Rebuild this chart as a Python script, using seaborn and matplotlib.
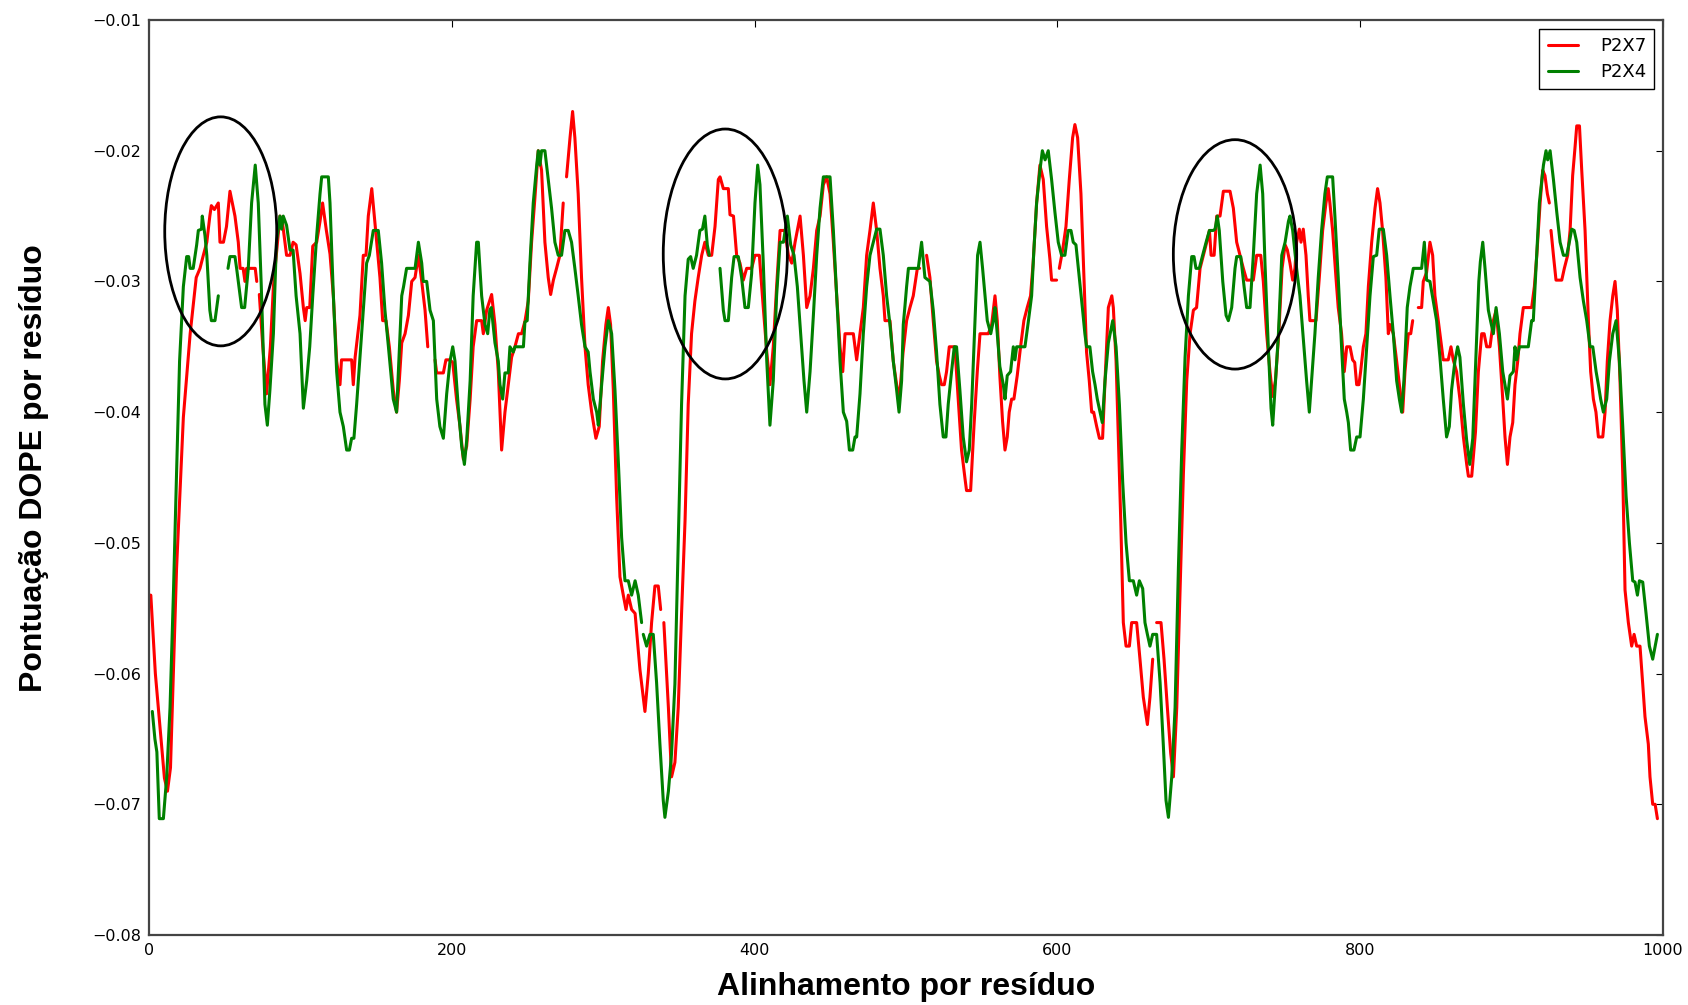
import matplotlib
matplotlib.use("Agg")
import matplotlib.pyplot as plt
from matplotlib.patches import Ellipse
from matplotlib.lines import Line2D
import numpy as np
import pandas as pd
import seaborn as sns

# DOPE per-residue profiles: (alignment position, score); GAP marks a break in the trace
GAP = None

p2x7 = [
    (0, -0.0540), (1, -0.0540), (4, -0.0600), (7, -0.0640), (10, -0.0680), (12, -0.0690), (14, -0.0672),
    (18, -0.0520), (22.5, -0.0404), (27, -0.0340), (31, -0.0297), (33.5, -0.0290), (35.7, -0.0280),
    (38, -0.0270), (40, -0.0250), (41, -0.0242), (43, -0.0245), (45.6, -0.0240), (46.7, -0.0270),
    (49, -0.0270), (51, -0.0258), (53.3, -0.0231), (56.6, -0.0250), (58.8, -0.0270), (60, -0.0290),
    (62, -0.0290), (63.2, -0.0300), (64.3, -0.0290), (70, -0.0290), (71, -0.0300), GAP,
    (72.7, -0.0310), (75, -0.0350), (77.5, -0.0386), (80, -0.0350), (82, -0.0304), (86.3, -0.0250),
    (88, -0.0255), (90.7, -0.0280), (93, -0.0280), (95, -0.0270), (97, -0.0272), (99.6, -0.0294),
    (101.8, -0.0320), (103, -0.0330), (104, -0.0320), (106, -0.0320), (108, -0.0273), (110.6, -0.0270),
    (112.8, -0.0254), (114.5, -0.0240), (117, -0.0261), (119.4, -0.0279), (121.6, -0.0311),
    (123.8, -0.0361), (126, -0.0379), (127, -0.0360), (133.7, -0.0360), (134.8, -0.0379), (136, -0.0358),
    (139.2, -0.0326), (141.4, -0.0280), (143.2, -0.0280), (144.7, -0.0250), (147, -0.0229),
    (149, -0.0254), (152.4, -0.0297), (154.2, -0.0330), (156.4, -0.0330), (158.6, -0.0350),
    (161.2, -0.0383), (163.4, -0.0400), (165.2, -0.0376), (166.8, -0.0347), (169, -0.0340),
    (171.2, -0.0326), (173.4, -0.0300), (175.6, -0.0297), (177.8, -0.0280), (180, -0.0300),
    (182.2, -0.0322), (184, -0.0350), GAP,
    (188.8, -0.0360), (189.9, -0.0370), (194.3, -0.0370), (196, -0.0360), (198.7, -0.0360),
    (200.5, -0.0362), (203, -0.0390), (205.3, -0.0411), (207.5, -0.0436), (209.7, -0.0426),
    (212, -0.0390), (214, -0.0350), (216.3, -0.0330), (219.6, -0.0330), (220.7, -0.0340),
    (222.9, -0.0322), (226.2, -0.0310), (228.4, -0.0333), (230.6, -0.0369), (232.8, -0.0429),
    (235, -0.0400), (237.2, -0.0379), (239.4, -0.0358), (241.6, -0.0350), (243.9, -0.0340),
    (246, -0.0340), (248.3, -0.0330), (250.4, -0.0315), (252.6, -0.0270), (254.8, -0.0236),
    (257, -0.0200), (259.2, -0.0215), (261.4, -0.0270), (263.6, -0.0297), (265.2, -0.0310),
    (267, -0.0299), (269.1, -0.0290), (271.3, -0.0280), (273.5, -0.0240), GAP,
    (275.7, -0.0220), (278, -0.0190), (279.7, -0.0170), (281.2, -0.0190), (283.4, -0.0233),
    (285.6, -0.0297), (287.9, -0.0350), (290, -0.0379), (292.3, -0.0400), (295.1, -0.0420),
    (297.3, -0.0411), (299.5, -0.0361), (301.7, -0.0333), (303.3, -0.0320), (304.8, -0.0333),
    (306.6, -0.0383), (308.8, -0.0465), (311, -0.0526), (313.2, -0.0540), (315, -0.0551),
    (316.5, -0.0540), (318.7, -0.0551), (321, -0.0554), (324.2, -0.0597), (327.5, -0.0629),
    (329.7, -0.0600), (331.9, -0.0561), (334.1, -0.0533), (336.3, -0.0533), (337.9, -0.0551), GAP,
    (340, -0.0561), (343, -0.0626), (345.1, -0.0679), (347.3, -0.0668), (349.5, -0.0626),
    (351.7, -0.0554), (354, -0.0483), (356.1, -0.0394), (358.3, -0.0340), (360.5, -0.0315),
    (362.7, -0.0297), (365, -0.0280), (367.1, -0.0270), (369.4, -0.0280), (371.6, -0.0280),
    (373.8, -0.0258), (376, -0.0222), (377.1, -0.0220), (379.3, -0.0229), (382.6, -0.0229),
    (383.7, -0.0249), (386, -0.0250), (388.1, -0.0280), (390.3, -0.0286), (392.5, -0.0299),
    (394.7, -0.0290), (398, -0.0290), (400.2, -0.0280), (403.1, -0.0280), (405.7, -0.0320),
    (408, -0.0354), (410.1, -0.0379), (412.3, -0.0350), (414.5, -0.0304), (416.8, -0.0261),
    (420, -0.0261), (422.3, -0.0280), (424.5, -0.0286), (426.7, -0.0270), (430, -0.0250),
    (432.2, -0.0280), (434.4, -0.0320), (436.6, -0.0311), (438.8, -0.0290), (441, -0.0261),
    (443.2, -0.0250), (445.4, -0.0226), (447.6, -0.0220), (449.8, -0.0233), (452, -0.0270),
    (454.2, -0.0311), (456.4, -0.0350), (458.2, -0.0369), (459.7, -0.0340), (465.2, -0.0340),
    (467.4, -0.0360), (469.6, -0.0340), (471.8, -0.0320), (474, -0.0280), (476.2, -0.0261),
    (478.4, -0.0240), (480.6, -0.0261), (482.8, -0.0290), (485, -0.0311), (486.1, -0.0330),
    (489.4, -0.0330), (491.6, -0.0361), (493.8, -0.0379), (495.6, -0.0390), (498, -0.0355),
    (500.4, -0.0330), (502.6, -0.0320), (504.8, -0.0311), (507.5, -0.0290), (509, -0.0290), GAP,
    (513.6, -0.0280), (515.8, -0.0297), (518, -0.0330), (520.2, -0.0361), (522, -0.0372),
    (523.5, -0.0379), (525.3, -0.0379), (526.8, -0.0369), (528.6, -0.0350), (532.3, -0.0350),
    (534.5, -0.0390), (536.7, -0.0429), (539, -0.0451), (540, -0.0460), (542.7, -0.0460),
    (544.9, -0.0411), (547.1, -0.0369), (548.9, -0.0340), (554.4, -0.0340), (556.6, -0.0333),
    (558.8, -0.0311), (560.3, -0.0330), (562, -0.0372), (563.8, -0.0407), (565.4, -0.0429),
    (566.9, -0.0419), (568.2, -0.0400), (569.8, -0.0390), (571.3, -0.0390), (573.5, -0.0372),
    (575.7, -0.0350), (577.9, -0.0330), (580.1, -0.0320), (582.3, -0.0311), (584, -0.0286),
    (586.3, -0.0240), (588.5, -0.0211), (590.7, -0.0222), (592.9, -0.0258), (595.1, -0.0283),
    (596.2, -0.0299), (599.5, -0.0299), GAP,
    (601.3, -0.0290), (603.5, -0.0276), (605.7, -0.0258), (607.9, -0.0222), (610.1, -0.0190),
    (611.6, -0.0180), (613.4, -0.0190), (615.6, -0.0233), (617.8, -0.0304), (619.3, -0.0354),
    (621.1, -0.0376), (622.7, -0.0400), (624, -0.0400), (626, -0.0411), (627.8, -0.0420),
    (629.9, -0.0420), (631.5, -0.0376), (633.7, -0.0320), (636, -0.0311), (637, -0.0320),
    (638.8, -0.0361), (640.3, -0.0419), (641.9, -0.0483), (643.6, -0.0561), (645.4, -0.0579),
    (647.6, -0.0579), (649.1, -0.0561), (652.4, -0.0561), (654.6, -0.0589), (656.8, -0.0618),
    (659.5, -0.0639), (661.2, -0.0618), (663, -0.0589), GAP,
    (665.6, -0.0561), (668.5, -0.0561), (670.5, -0.0589), (672.7, -0.0626), (674.9, -0.0661),
    (676.7, -0.0679), (678.9, -0.0626), (681.1, -0.0536), (683.3, -0.0447), (685.5, -0.0376),
    (687.7, -0.0340), (689.9, -0.0322), (692, -0.0320), (694.3, -0.0290), (696.5, -0.0280),
    (698.7, -0.0270), (700.5, -0.0261), (701.6, -0.0280), (703.6, -0.0280), (705.3, -0.0250),
    (707.5, -0.0250), (709.7, -0.0231), (714.1, -0.0231), (716.3, -0.0244), (718.5, -0.0270),
    (720.7, -0.0280), (722.9, -0.0290), (725.1, -0.0299), (729.5, -0.0299), (731.7, -0.0280),
    (734.4, -0.0280), (736.1, -0.0300), (738.3, -0.0340), (740.5, -0.0369), (742.3, -0.0388),
    (744.1, -0.0376), (746.3, -0.0340), (748.5, -0.0290), (750.5, -0.0272), (752, -0.0276),
    (753.7, -0.0286), (755.5, -0.0299), (757, -0.0290), (758.1, -0.0270), (759.9, -0.0260),
    (761, -0.0270), (762.5, -0.0260), (764.3, -0.0280), (765.8, -0.0311), (766.9, -0.0330),
    (770.9, -0.0330), (773.1, -0.0297), (775.3, -0.0261), (777.5, -0.0240), (779, -0.0229),
    (780.1, -0.0240), (781.9, -0.0261), (784.1, -0.0297), (785.6, -0.0320), (787.8, -0.0340),
    (789.6, -0.0369), (791.2, -0.0350), (793.4, -0.0350), (795.1, -0.0360), (796.5, -0.0362),
    (797.8, -0.0379), (799.3, -0.0379), (800.4, -0.0369), (802.2, -0.0350), (803.9, -0.0340),
    (805.5, -0.0304), (807.7, -0.0270), (809.9, -0.0244), (811.6, -0.0229), (813.2, -0.0240),
    (814.9, -0.0261), (817.1, -0.0297), (818.7, -0.0340), (819.8, -0.0333), (822, -0.0340),
    (824.2, -0.0361), (826, -0.0379), (828.2, -0.0400), (829.7, -0.0369), (831.9, -0.0340),
    (833.5, -0.0340), (834.8, -0.0330), GAP,
    (838.5, -0.0320), (840.7, -0.0320), (841.8, -0.0300), (844, -0.0293), (846.2, -0.0270),
    (848, -0.0280), (849.5, -0.0311), (851.7, -0.0330), (852.8, -0.0340), (855, -0.0360),
    (858.3, -0.0360), (860.1, -0.0350), (861.6, -0.0360), (863.8, -0.0369), (866, -0.0390),
    (868.3, -0.0419), (870.5, -0.0440), (871.6, -0.0449), (873.8, -0.0449), (876.3, -0.0415),
    (878.2, -0.0369), (880.4, -0.0340), (882, -0.0340), (883.7, -0.0350), (885.9, -0.0350),
    (888.1, -0.0330), (889.9, -0.0322), (892.1, -0.0350), (894.3, -0.0390), (895.8, -0.0419),
    (897.4, -0.0440), (899.1, -0.0419), (900.9, -0.0408), (902.4, -0.0379), (904.2, -0.0361),
    (905.7, -0.0340), (907.9, -0.0320), (913.4, -0.0320), (915.2, -0.0304), (916.8, -0.0280),
    (919, -0.0240), (920.7, -0.0215), (922.2, -0.0219), (923.8, -0.0233), (925.1, -0.0240), GAP,
    (926.2, -0.0261), (927.8, -0.0280), (929.5, -0.0299), (933.3, -0.0299), (935, -0.0290),
    (937.2, -0.0280), (938.8, -0.0261), (940.5, -0.0219), (942.1, -0.0197), (943.2, -0.0181),
    (945, -0.0181), (946.5, -0.0215), (948.7, -0.0261), (950.9, -0.0330), (952.4, -0.0369),
    (954.2, -0.0390), (955.9, -0.0400), (957.5, -0.0419), (960.4, -0.0419), (961.9, -0.0400),
    (963.4, -0.0361), (965.2, -0.0330), (967, -0.0311), (968.5, -0.0300), (970, -0.0322),
    (971.8, -0.0376), (973.6, -0.0447), (975.1, -0.0536), (977.3, -0.0561), (979.5, -0.0579),
    (981.1, -0.0570), (982.8, -0.0579), (985, -0.0579), (986.8, -0.0608), (988.3, -0.0633),
    (990.5, -0.0654), (991.6, -0.0679), (993.4, -0.0700), (995, -0.0700), (996.5, -0.0711),
]

p2x4 = [
    (2, -0.0629), (3.7, -0.0650), (5, -0.0660), (6.6, -0.0711), (9.3, -0.0711), (11.5, -0.0679),
    (13.7, -0.0626), (16, -0.0536), (18, -0.0447), (20, -0.0361), (22.5, -0.0304), (24.7, -0.0281),
    (26, -0.0281), (27, -0.0290), (29, -0.0290), (31.3, -0.0272), (32.4, -0.0261), (34.5, -0.0260),
    (35, -0.0250), (36.8, -0.0265), (38, -0.0280), (40, -0.0322), (41, -0.0330), (43.4, -0.0330),
    (45.6, -0.0311), GAP,
    (52, -0.0290), (53.3, -0.0281), (56.6, -0.0281), (57.7, -0.0290), (61, -0.0320), (63, -0.0320),
    (65.4, -0.0290), (67.6, -0.0240), (70, -0.0211), (72, -0.0240), (74, -0.0304), (76.4, -0.0394),
    (78, -0.0410), (79.7, -0.0383), (82, -0.0340), (84, -0.0270), (86.3, -0.0250), (87.4, -0.0260),
    (88.5, -0.0250), (90.7, -0.0257), (93, -0.0276), (95, -0.0276), (97, -0.0311), (99.6, -0.0340),
    (101.8, -0.0397), (104, -0.0376), (106, -0.0350), (108, -0.0311), (110.6, -0.0265),
    (112.8, -0.0233), (113.9, -0.0220), (118.3, -0.0220), (119.4, -0.0240), (121.6, -0.0310),
    (123.8, -0.0369), (126, -0.0400), (128.2, -0.0411), (130.4, -0.0429), (132.2, -0.0429),
    (133.7, -0.0420), (135.2, -0.0420), (137, -0.0394), (139.2, -0.0358), (141.4, -0.0322),
    (143.6, -0.0286), (145.4, -0.0280), (148, -0.0261), (151.3, -0.0261), (153.5, -0.0286),
    (155.7, -0.0322), (158, -0.0350), (161.2, -0.0390), (163.4, -0.0400), (165.7, -0.0340),
    (166.8, -0.0311), (168, -0.0304), (170, -0.0290), (175.6, -0.0290), (177.8, -0.0270),
    (180, -0.0286), (181, -0.0300), (183.3, -0.0300), (185.5, -0.0322), (187.7, -0.0330),
    (189.9, -0.0390), (192, -0.0411), (194.3, -0.0420), (196.5, -0.0386), (198.7, -0.0361),
    (200.5, -0.0350), (202, -0.0361), (204.2, -0.0397), (206.4, -0.0426), (208.2, -0.0440),
    (209.7, -0.0422), (212, -0.0376), (214, -0.0311), (216.3, -0.0270), (217.4, -0.0270),
    (219.6, -0.0311), (221.8, -0.0333), (223.6, -0.0340), (225, -0.0322), (226, -0.0320),
    (228.4, -0.0347), (230.6, -0.0361), (231.7, -0.0379), (233.5, -0.0390), (235, -0.0370),
    (237.2, -0.0370), (238.3, -0.0350), (240.5, -0.0354), (241.6, -0.0350), (247.2, -0.0350),
    (248.2, -0.0331), (249.7, -0.0330), (251.5, -0.0286), (253.7, -0.0240), (256, -0.0211),
    (257, -0.0200), (258.1, -0.0211), (259.2, -0.0200), (261.4, -0.0200), (263.6, -0.0222),
    (265.8, -0.0244), (268, -0.0270), (270.2, -0.0280), (272.4, -0.0280), (274.6, -0.0261),
    (276.8, -0.0261), (279, -0.0270), (281.2, -0.0290), (283.4, -0.0311), (285.6, -0.0333),
    (287.9, -0.0350), (290, -0.0354), (291.2, -0.0369), (293.4, -0.0390), (295.6, -0.0400),
    (296.7, -0.0410), (298.9, -0.0379), (301.1, -0.0350), (303.3, -0.0330), (305.5, -0.0340),
    (307.7, -0.0383), (310, -0.0440), (312.1, -0.0496), (314.3, -0.0529), (316.5, -0.0529),
    (318.7, -0.0540), (321, -0.0529), (323.1, -0.0540), (325.3, -0.0561), GAP,
    (326.4, -0.0570), (328.6, -0.0579), (330.8, -0.0570), (333, -0.0570), (335.2, -0.0607),
    (337.4, -0.0654), (339.6, -0.0697), (340.7, -0.0710), (343, -0.0690), (345.1, -0.0661),
    (347.3, -0.0608), (349.5, -0.0500), (351.7, -0.0394), (354, -0.0311), (356.1, -0.0283),
    (357.7, -0.0281), (359.4, -0.0290), (361.6, -0.0280), (363.8, -0.0261), (365.5, -0.0260),
    (367.1, -0.0250), (368.7, -0.0272), (370, -0.0280), GAP,
    (377.1, -0.0290), (379.3, -0.0322), (380.4, -0.0330), (382.6, -0.0330), (384.8, -0.0297),
    (386.4, -0.0281), (389.2, -0.0281), (391.4, -0.0297), (393.6, -0.0320), (395.8, -0.0320),
    (398, -0.0294), (400.2, -0.0240), (402, -0.0211), (403.5, -0.0226), (405.7, -0.0286),
    (408, -0.0361), (410.1, -0.0410), (412.3, -0.0376), (414.5, -0.0311), (416.8, -0.0270),
    (419, -0.0270), (421.6, -0.0250), (423.8, -0.0272), (426, -0.0280), (428.2, -0.0304),
    (430.4, -0.0340), (432.6, -0.0376), (434.4, -0.0400), (436.6, -0.0369), (438.8, -0.0326),
    (441, -0.0280), (443.2, -0.0244), (445.4, -0.0220), (449.8, -0.0220), (452, -0.0261),
    (454.2, -0.0311), (456.4, -0.0361), (458.6, -0.0400), (460.8, -0.0407), (462.6, -0.0429),
    (464.8, -0.0429), (466.3, -0.0419), (467.4, -0.0419), (469.6, -0.0386), (471.8, -0.0340),
    (474, -0.0304), (476.2, -0.0280), (478.4, -0.0270), (480.6, -0.0260), (482.8, -0.0260),
    (485, -0.0280), (487.2, -0.0311), (489.4, -0.0333), (491.6, -0.0361), (493.8, -0.0383),
    (495.4, -0.0400), (497.1, -0.0376), (498.2, -0.0333), (499.3, -0.0319), (500.4, -0.0304),
    (501.6, -0.0290), (502.2, -0.0290), (508.1, -0.0290), (510.3, -0.0270), (512.5, -0.0297),
    (515.8, -0.0300), (518, -0.0322), (520.2, -0.0354), (522.4, -0.0394), (524.6, -0.0419),
    (526.4, -0.0419), (527.9, -0.0394), (530.1, -0.0369), (531.9, -0.0350), (533.4, -0.0350),
    (535.6, -0.0383), (537.8, -0.0419), (540, -0.0438), (541.8, -0.0429), (543.4, -0.0394),
    (545.6, -0.0330), (547.3, -0.0280), (548.9, -0.0270), (550.6, -0.0290), (552.2, -0.0311),
    (553.7, -0.0330), (556, -0.0340), (557.7, -0.0330), (558.8, -0.0320), (560.3, -0.0340),
    (562, -0.0365), (564.3, -0.0379), (565.4, -0.0390), (566.9, -0.0372), (569.1, -0.0369),
    (570.9, -0.0350), (572, -0.0360), (573.1, -0.0350), (578.6, -0.0350), (580.8, -0.0331),
    (583, -0.0311), (584.5, -0.0276), (586.3, -0.0240), (588.5, -0.0215), (590.1, -0.0200),
    (591.9, -0.0207), (594, -0.0200), (596.2, -0.0222), (598.4, -0.0247), (600.6, -0.0270),
    (602.8, -0.0280), (605, -0.0280), (607.2, -0.0261), (609, -0.0261), (610.5, -0.0270),
    (612.3, -0.0272), (614.5, -0.0297), (616.7, -0.0322), (618.2, -0.0340), (619.3, -0.0350),
    (621.5, -0.0350), (623.3, -0.0369), (624.9, -0.0379), (626.4, -0.0390), (628.2, -0.0400),
    (629.7, -0.0408), (631.5, -0.0376), (633.7, -0.0347), (636.6, -0.0330), (638.8, -0.0350),
    (641, -0.0394), (643.2, -0.0454), (645.4, -0.0500), (647.6, -0.0529), (650.2, -0.0529),
    (652.4, -0.0540), (654.2, -0.0529), (656.4, -0.0535), (657.9, -0.0561), (659.5, -0.0570),
    (661.2, -0.0579), (663, -0.0570), (665.6, -0.0570), (667.9, -0.0607), (670, -0.0654),
    (671.8, -0.0697), (673.4, -0.0710), (675.6, -0.0679), (677.8, -0.0626), (680, -0.0519),
    (682.2, -0.0429), (684.4, -0.0358), (686.6, -0.0311), (688.8, -0.0281), (690.3, -0.0281),
    (691.6, -0.0290), (693.8, -0.0290), (696, -0.0280), (698.3, -0.0270), (700.5, -0.0261),
    (703, -0.0261), (704.2, -0.0260), (705.7, -0.0250), (707, -0.0261), (709.3, -0.0300),
    (711.5, -0.0326), (713, -0.0330), (715.2, -0.0320), (717.4, -0.0290), (718.5, -0.0281),
    (721.2, -0.0281), (723.4, -0.0304), (725.1, -0.0320), (727.3, -0.0320), (729.5, -0.0280),
    (731.7, -0.0233), (734, -0.0211), (735.7, -0.0233), (737.2, -0.0286), (739.4, -0.0350),
    (741.2, -0.0397), (742.3, -0.0410), (743.8, -0.0383), (746.1, -0.0340), (748.3, -0.0280),
    (750.5, -0.0270), (752.7, -0.0254), (753.7, -0.0250), (755.5, -0.0261), (758.1, -0.0290),
    (760.3, -0.0311), (762.5, -0.0344), (764.7, -0.0376), (766.5, -0.0400), (768, -0.0376),
    (770.2, -0.0340), (772.4, -0.0297), (774.6, -0.0261), (776.8, -0.0233), (778.4, -0.0220),
    (781.9, -0.0220), (783.4, -0.0250), (785.6, -0.0297), (787.8, -0.0350), (789.6, -0.0390),
    (791.2, -0.0400), (792.3, -0.0408), (793.8, -0.0429), (796, -0.0429), (797.8, -0.0419),
    (800, -0.0419), (802.2, -0.0390), (804.4, -0.0350), (806.6, -0.0311), (808.8, -0.0281),
    (811, -0.0280), (812.7, -0.0260), (815.4, -0.0260), (817.6, -0.0280), (819.8, -0.0311),
    (822, -0.0340), (824.2, -0.0376), (826, -0.0390), (827.5, -0.0400), (829, -0.0376),
    (831.2, -0.0320), (833, -0.0304), (835.2, -0.0290), (840.7, -0.0290), (842.5, -0.0270),
    (844, -0.0299), (846.2, -0.0300), (848.4, -0.0315), (850.6, -0.0330), (852.8, -0.0358),
    (855, -0.0390), (857.2, -0.0419), (859, -0.0411), (860.5, -0.0383), (862.7, -0.0361),
    (864.5, -0.0350), (866, -0.0358), (868.3, -0.0394), (870.5, -0.0422), (872.5, -0.0440),
    (874.5, -0.0420), (876.5, -0.0360), (878.5, -0.0300), (879.5, -0.0285), (881.1, -0.0270),
    (882.6, -0.0290), (884.8, -0.0322), (886.4, -0.0331), (888.1, -0.0340), (889.9, -0.0320),
    (892.1, -0.0340), (894.3, -0.0369), (895.8, -0.0379), (897.4, -0.0390), (899.1, -0.0372),
    (901.3, -0.0369), (902.4, -0.0350), (903.5, -0.0360), (905.3, -0.0350), (911.2, -0.0350),
    (913.4, -0.0330), (914.5, -0.0330), (916.3, -0.0290), (918.5, -0.0240), (921.2, -0.0211),
    (922.9, -0.0200), (924, -0.0207), (925.6, -0.0200), (927.8, -0.0222), (930, -0.0247),
    (932.2, -0.0270), (934.4, -0.0280), (936.6, -0.0280), (938.3, -0.0270), (939.9, -0.0260),
    (941.5, -0.0261), (943.2, -0.0270), (945.4, -0.0297), (947.6, -0.0315), (949.8, -0.0330),
    (952, -0.0350), (953.8, -0.0350), (956, -0.0369), (957.5, -0.0379), (959, -0.0390),
    (960.8, -0.0400), (963, -0.0390), (964.8, -0.0361), (967, -0.0340), (969.2, -0.0330),
    (971.4, -0.0361), (973.6, -0.0411), (975.8, -0.0464), (978, -0.0500), (980.2, -0.0529),
    (981.7, -0.0530), (983.3, -0.0540), (984.6, -0.0529), (986.8, -0.0530), (989, -0.0554),
    (991.2, -0.0579), (993.4, -0.0589), (995, -0.0579), (996.5, -0.0570),
]

series_names = ["P2X7", "P2X4"]
series_colors = ["#ff0000", "#008000"]

# highlighted regions (centre position, centre score, width in residues, height in score)
ring_x = [47.2, 380.6, 717.4]
ring_y = [-0.02617, -0.02790, -0.02793]
ring_w = [74.0, 82.0, 81.5]
ring_h = [0.01752, 0.01912, 0.01755]

x_ticks = [0, 200, 400, 600, 800, 1000]
y_ticks = [-0.08, -0.07, -0.06, -0.05, -0.04, -0.03, -0.02, -0.01]


def to_frame(points, name):
    rows = []
    seg = 0
    for p in points:
        if p is GAP:
            seg += 1
            continue
        rows.append({"residue": p[0], "score": p[1], "protein": name,
                     "segment": f"{name}-{seg}"})
    return pd.DataFrame(rows)


df = pd.concat([to_frame(p2x7, "P2X7"), to_frame(p2x4, "P2X4")], ignore_index=True)

sns.set_style("white")
plt.rcParams["font.family"] = ["DejaVu Sans"]
plt.rcParams["text.color"] = "black"
plt.rcParams["axes.labelcolor"] = "black"

W, H = 1688, 1005
fig = plt.figure(figsize=(W / 100, H / 100), dpi=100)
left, right, top, bottom = 149.3, 1662.7, 20, 935
ax = fig.add_axes([left / W, 1 - bottom / H, (right - left) / W, (bottom - top) / H])

sns.lineplot(data=df, x="residue", y="score", hue="protein", units="segment",
             estimator=None, sort=False, palette=dict(zip(series_names, series_colors)),
             linewidth=2.2, legend=False, ax=ax)

for cx, cy, w, h in zip(ring_x, ring_y, ring_w, ring_h):
    ax.add_patch(Ellipse((cx, cy), w, h, fill=False, edgecolor="black", linewidth=2.0, zorder=5))

ax.set_xlim(0, 1000)
ax.set_ylim(-0.08, -0.01)
ax.set_xticks(x_ticks)
ax.set_yticks(y_ticks)
ax.tick_params(direction="in", top=True, right=True, length=5, width=0.8,
               labelsize=11.5, colors="black", pad=6)
for s in ax.spines.values():
    s.set_color("#444444")
    s.set_linewidth(1.6)

label_font = dict(fontsize=23, fontweight="bold", color="black",
                  family=["Liberation Sans", "DejaVu Sans"])
ax.set_xlabel("Alinhamento por resíduo", va="center", **label_font)
ax.set_ylabel("Pontuação DOPE por resíduo", va="center", **label_font)
ax.xaxis.set_label_coords(0.5, (bottom - 987) / (bottom - top))
ax.yaxis.set_label_coords((34 - left) / (right - left), (bottom - 468) / (bottom - top))

handles = [Line2D([], [], color=c, linewidth=2.2) for c in series_colors]
leg = ax.legend(handles, series_names, loc="upper right",
                bbox_to_anchor=((1654.3 - left) / (right - left), (bottom - 29) / (bottom - top)),
                borderaxespad=0, fancybox=False, framealpha=1, edgecolor="black",
                fontsize=13, handlelength=1.7, handletextpad=1.2, borderpad=0.45,
                labelspacing=0.45)
leg.get_frame().set_linewidth(1.0)
for t in leg.get_texts():
    t.set_color("black")

fig.savefig("out.png", dpi=100, facecolor="white")
